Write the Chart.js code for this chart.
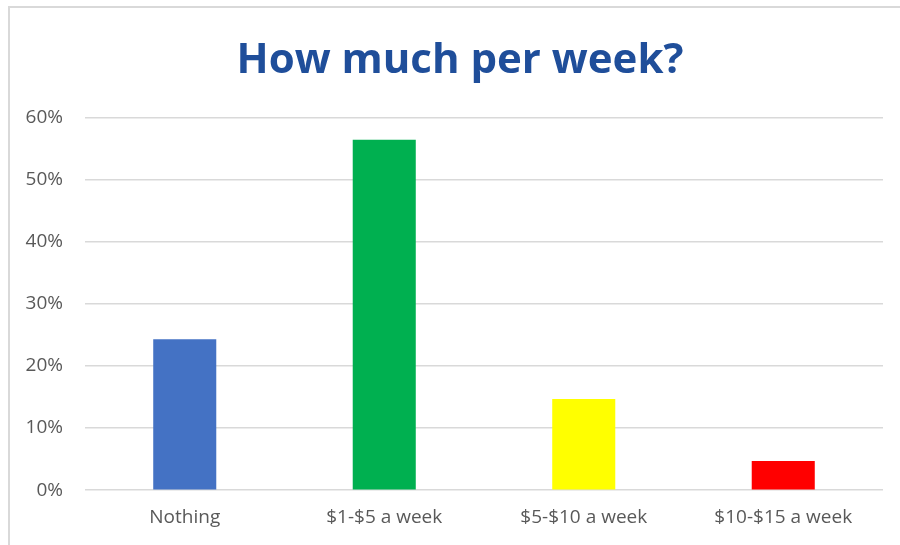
<!DOCTYPE html>
<html>
<head>
<meta charset="utf-8">
<script src="https://cdn.jsdelivr.net/npm/chart.js@4"></script>
<style>
  body { margin: 0; background: #fff; }
  #frame {
    position: absolute; left: 8px; top: 6px; width: 900px; height: 545px;
    border-left: 2px solid #d9d9d9; border-top: 2px solid #d9d9d9;
  }
  #wrap { position: absolute; left: 0; top: 0; width: 900px; height: 545px; }
</style>
</head>
<body>
<div id="frame"></div>
<div id="wrap"><canvas id="myChart" width="900" height="545"></canvas></div>
<script>
// 카테고리와 값 (%)
const categories = ["Nothing", "$1-$5 a week", "$5-$10 a week", "$10-$15 a week"];
const shares = [24.3, 56.4, 14.7, 4.7];
const barColors = ["#4472C4", "#00B050", "#FFFF00", "#FF0000"];
const yTicks = [0, 10, 20, 30, 40, 50, 60];
const chartTitle = "How much per week?";

const ctx = document.getElementById('myChart').getContext('2d');

// 제목은 원본처럼 약간 오른쪽에 중앙 정렬해서 직접 그림
const titlePlugin = {
  id: "offsetTitle",
  afterDraw(chart) {
    const c = chart.ctx;
    c.save();
    c.fillStyle = "#1F4E9A";
    c.font = "bold 42px 'Open Sans'";
    c.textAlign = "center";
    c.textBaseline = "alphabetic";
    c.fillText(chartTitle, 460, 73);
    c.restore();
  }
};

const chart = new Chart(ctx, {
  type: "bar",
  data: {
    labels: categories,
    datasets: [
      {
        label: "Share",
        data: shares,
        backgroundColor: barColors,
        categoryPercentage: 1,
        barPercentage: 0.316
      }
    ]
  },
  options: {
    responsive: false,
    animation: false,
    layout: { padding: { left: 0, right: 17, top: 117.5, bottom: 0 } },
    plugins: {
      legend: { display: false },
      tooltip: { enabled: false },
      title: { display: false }
    },
    scales: {
      x: {
        grid: { display: false, drawTicks: false },
        border: { display: false },
        ticks: {
          color: "#595959",
          font: { family: "Open Sans", size: 19 },
          padding: 16,
          autoSkip: false,
          maxRotation: 0
        }
      },
      y: {
        min: 0,
        max: 60,
        afterFit: (scale) => { scale.width = 85; },
        afterBuildTicks: (scale) => {
          scale.ticks = yTicks.map(v => ({ value: v }));
        },
        grid: { color: "#d9d9d9", lineWidth: 1.5, drawTicks: false },
        border: { display: false },
        ticks: {
          color: "#595959",
          font: { family: "Open Sans", size: 19 },
          padding: 22,
          callback: (v) => v + "%"
        }
      }
    }
  },
  plugins: [titlePlugin]
});
</script>
</body>
</html>
